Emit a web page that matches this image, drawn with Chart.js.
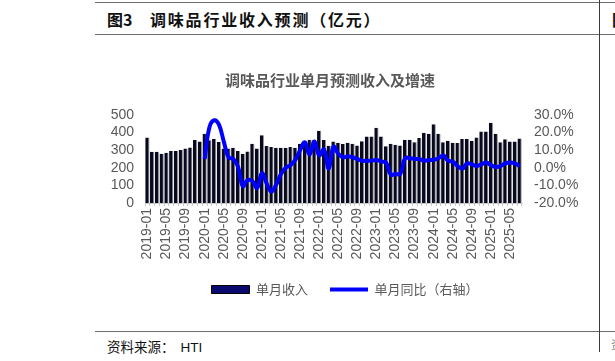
<!DOCTYPE html>
<html>
<head>
<meta charset="utf-8">
<script src="https://cdn.jsdelivr.net/npm/chart.js@4.4.1/dist/chart.umd.min.js"></script>
<style>
  body { margin: 0; width: 615px; height: 361px; background: #fff; overflow: hidden; position: relative; font-family: "Noto Sans CJK SC", sans-serif; }
  .hline { position: absolute; left: 95px; width: 520px; height: 0; border-top: 1.5px solid #6e6e6e; }
  .vline { position: absolute; left: 599px; top: 0; width: 0; height: 352px; border-left: 1.5px solid #3c3c3c; }
  .head { position: absolute; top: 7px; font-size: 16px; font-weight: bold; color: #111; letter-spacing: 1.8px; white-space: nowrap; }
  .src { position: absolute; left: 107px; top: 336px; font-size: 13.5px; color: #111; white-space: nowrap; }
  #wrap { position: absolute; left: 80px; top: 60px; width: 500px; height: 246px; }
</style>
</head>
<body>
<div class="hline" style="top:2px"></div>
<div class="hline" style="top:34px"></div>
<div class="hline" style="top:331px"></div>
<div class="vline"></div>
<div class="head" style="left:107px;letter-spacing:0">图3</div>
<div class="head" style="left:150px">调味品行业收入预测（亿元）</div>
<div class="head" style="left:612px">图</div>
<div class="src">资料来源：&nbsp;&nbsp;<span style="font-family:'Liberation Sans'">HTI</span></div>
<div class="src" style="left:611px;font-size:11px;color:#888">资</div>
<div id="wrap"><canvas id="chart"></canvas></div>
<script>
const months = [];
for (let y = 2019; y <= 2025; y++) {
  for (let m = 1; m <= 12; m++) {
    if (y === 2025 && m > 7) break;
    months.push(y + '-' + String(m).padStart(2, '0'));
  }
}

// 单月收入（亿元）
const revenue = [
  372, 291, 291, 280, 286, 295, 295, 301, 310, 316, 358, 349,
  393, 356, 365, 347, 309, 309, 314, 295, 280, 293, 337, 309,
  385, 324, 318, 314, 314, 314, 318, 314, 337, 350, 360, 360,
  410, 358, 325, 349, 343, 335, 343, 337, 326, 351, 378, 378,
  428, 378, 322, 337, 331, 326, 360, 360, 345, 370, 399, 393,
  448, 393, 345, 354, 343, 341, 364, 364, 354, 372, 406, 406,
  456, 393, 345, 362, 349, 349, 366
];

// 单月同比（%），2019 年无数据
const yoy = [
  null, null, null, null, null, null, null, null, null, null, null, null,
  5, 23, 27, 24.5, 15, 6, 5, 0.5, -10.5, -7, -7.5, -11.5,
  -3, -9, -13.5, -9.5, -3.5, 0, 1.5, 4.5, 10, 14.5, 7.5, 15,
  7, 10.5, -0.5, 12, 8, 6, 6.5, 6, 5, 4, 4, 4,
  4.5, 3.5, 3, -4, -3.5, -3.5, 5.5, 5.5, 5, 5, 4, 4.5,
  4.5, 5.5, 7, 4, 3.5, 1, -0.5, 2.5, 2, 1, 2, 3,
  1.5, 0.5, 1, 2.5, 3, 2.5, 1
];

const leftTicks = [0, 100, 200, 300, 400, 500];
const rightTicks = [-20, -10, 0, 10, 20, 30];

const gray = '#595959';
const tickFont = { family: 'Liberation Sans', size: 14 };

// 图例整体右移，使其与原图位置一致
const shiftLegend = {
  id: 'shiftLegend',
  afterLayout(chart) {
    chart.legend.left += 15;
    chart.legend.right += 15;
  }
};

new Chart(document.getElementById('chart'), {
  data: {
    labels: months,
    datasets: [
      {
        type: 'bar',
        label: '单月收入',
        data: revenue,
        yAxisID: 'y',
        backgroundColor: '#08081f',
        borderColor: '#9a9a9a',
        borderWidth: { top: 0, right: 1, bottom: 0, left: 0 },
        borderSkipped: false,
        barPercentage: 0.9,
        categoryPercentage: 1,
        order: 2
      },
      {
        type: 'line',
        label: '单月同比（右轴）',
        data: yoy,
        yAxisID: 'y1',
        borderColor: '#0000ff',
        borderWidth: 4,
        pointRadius: 0,
        tension: 0.4,
        order: 1
      }
    ]
  },
  options: {
    responsive: true,
    maintainAspectRatio: false,
    animation: false,
    layout: { padding: 0 },
    plugins: {
      title: {
        display: true,
        text: '调味品行业单月预测收入及增速',
        color: gray,
        font: { family: 'Noto Sans CJK SC', size: 15, weight: 'bold' },
        padding: { top: 11, bottom: 26 }
      },
      legend: {
        position: 'bottom',
        labels: {
          usePointStyle: true,
          pointStyleWidth: 38,
          boxHeight: 8,
          padding: 22,
          color: gray,
          font: { family: 'Noto Sans CJK SC', size: 13 },
          generateLabels: () => [
            { text: '单月收入', fillStyle: '#0a0a6e', strokeStyle: '#000', lineWidth: 1, pointStyle: 'rect', datasetIndex: 0, fontColor: gray },
            { text: '单月同比（右轴）', fillStyle: '#0000ff', strokeStyle: '#0000ff', lineWidth: 4, pointStyle: 'line', datasetIndex: 1, fontColor: gray }
          ]
        }
      },
      tooltip: { enabled: false }
    },
    scales: {
      x: {
        grid: { display: true, drawOnChartArea: false, drawTicks: true, tickLength: 3, color: '#c8c8c8' },
        border: { display: true, color: '#c8c8c8' },
        ticks: {
          autoSkip: false,
          minRotation: 90,
          maxRotation: 90,
          color: gray,
          font: tickFont,
          padding: 2,
          callback: function (v, i) { return i % 4 === 0 ? this.getLabelForValue(v) : ''; }
        },
        afterFit: s => { s.height = 58; }
      },
      y: {
        position: 'left',
        min: 0,
        max: 500,
        grid: { display: false, drawTicks: false },
        border: { display: false },
        afterBuildTicks: s => { s.ticks = leftTicks.map(v => ({ value: v })); },
        ticks: { autoSkip: false, color: gray, font: tickFont, padding: 11 },
        afterFit: s => { s.width = 65; }
      },
      y1: {
        position: 'right',
        min: -20,
        max: 30,
        grid: { display: false, drawTicks: false },
        border: { display: false },
        afterBuildTicks: s => { s.ticks = rightTicks.map(v => ({ value: v })); },
        ticks: { autoSkip: false, color: gray, font: tickFont, padding: 12, callback: v => v.toFixed(1) + '%' },
        afterFit: s => { s.width = 58; }
      }
    }
  },
  plugins: [shiftLegend]
});
</script>
</body>
</html>
